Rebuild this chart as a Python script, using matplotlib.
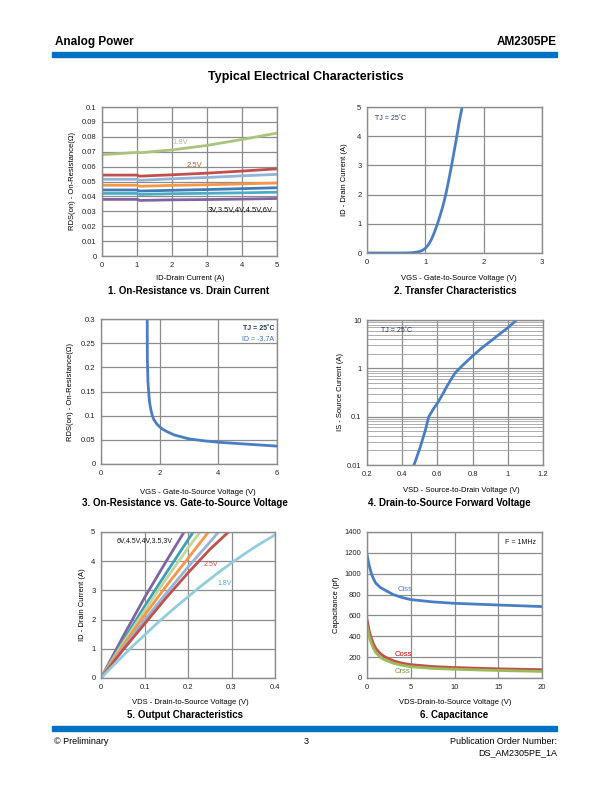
import matplotlib
matplotlib.use("Agg")
import matplotlib.pyplot as plt
from matplotlib.ticker import FixedLocator, FuncFormatter, LogLocator, NullFormatter
import numpy as np

plt.rcParams['font.family'] = ['Liberation Sans', 'DejaVu Sans']

W, H = 612, 792
BLUE_BAR = '#0070c0'
GRID = '#8c8c8c'

# ---- chart 1: RDS(on) vs ID, one curve per VGS ----
id_pts = [0, 1.0, 1.08, 2, 3, 4, 5]
rds_18 = [0.068, 0.0695, 0.0693, 0.0712, 0.0742, 0.0782, 0.0825]
rds_25 = [0.0543, 0.0543, 0.0536, 0.0545, 0.0556, 0.0570, 0.0585]
rds_3 = [0.0515, 0.0515, 0.0508, 0.0518, 0.0527, 0.0538, 0.0548]
rds_35 = [0.0475, 0.0475, 0.0468, 0.0474, 0.0478, 0.0484, 0.0490]
rds_4 = [0.0443, 0.0443, 0.0436, 0.0441, 0.0446, 0.0452, 0.0458]
rds_45 = [0.0420, 0.0420, 0.0413, 0.0418, 0.0421, 0.0424, 0.0428]
rds_6 = [0.0380, 0.0380, 0.0373, 0.0377, 0.0379, 0.0382, 0.0386]
c1_series = [rds_18, rds_25, rds_3, rds_35, rds_4, rds_45, rds_6]
c1_colors = ['#a9c47f', '#c0504d', '#95b3d7', '#f79646', '#3f7cb5', '#4bacc6', '#8064a2']

# ---- chart 2: transfer ----
vgs_tr = [0, 0.5, 0.7, 0.8, 0.9, 0.95, 1.0, 1.05, 1.1, 1.15, 1.2, 1.25, 1.3, 1.35, 1.4, 1.45, 1.5, 1.54, 1.58, 1.63]
id_tr = [0, 0, 0.003, 0.015, 0.05, 0.09, 0.16, 0.28, 0.45, 0.68, 0.95, 1.26, 1.6, 2.0, 2.48, 3.0, 3.55, 4.0, 4.48, 5.0]

# ---- chart 3: RDS(on) vs VGS ----
vgs_rd = [1.575, 1.58, 1.6, 1.65, 1.7, 1.75, 1.8, 1.9, 2.0, 2.1, 2.25, 2.5, 3.0, 3.5, 4.0, 5.0, 6.0]
rds_vg = [0.3, 0.22, 0.17, 0.13, 0.112, 0.1, 0.092, 0.083, 0.077, 0.072, 0.067, 0.060, 0.052, 0.048, 0.045, 0.041, 0.037]

# ---- chart 4: body diode forward ----
vsd = [0.467, 0.50, 0.53, 0.551, 0.58, 0.60, 0.625, 0.65, 0.675, 0.70, 0.75, 0.80, 0.85, 0.90, 0.95, 1.00, 1.05]
i_s = [0.01, 0.022, 0.05, 0.1, 0.15, 0.19, 0.27, 0.4, 0.57, 0.8, 1.22, 1.8, 2.6, 3.6, 5.0, 6.9, 10.0]

# ---- chart 5: output characteristics ----
out_curves = [
    ([0, 0.05, 0.1, 0.15, 0.191], [0, 1.4, 2.75, 4.0, 5.0]),                        # 6V
    ([0, 0.05, 0.1, 0.15, 0.212], [0, 1.25, 2.45, 3.6, 5.0]),                       # 4.5V
    ([0, 0.05, 0.1, 0.15, 0.2, 0.228], [0, 1.18, 2.3, 3.4, 4.45, 5.0]),             # 4V
    ([0, 0.05, 0.1, 0.15, 0.2, 0.247], [0, 1.1, 2.15, 3.15, 4.1, 5.0]),             # 3.5V
    ([0, 0.05, 0.1, 0.15, 0.2, 0.25, 0.27], [0, 1.0, 1.98, 2.9, 3.8, 4.65, 5.0]),   # 3V
    ([0, 0.05, 0.1, 0.15, 0.2, 0.25, 0.293], [0, 0.95, 1.85, 2.75, 3.6, 4.4, 5.0]), # 2.5V
    ([0, 0.025, 0.05, 0.075, 0.1, 0.125, 0.15, 0.175, 0.2, 0.225, 0.25, 0.275, 0.3, 0.325, 0.35, 0.375, 0.4],
     [0, 0.38, 0.75, 1.12, 1.47, 1.82, 2.15, 2.47, 2.78, 3.09, 3.38, 3.67, 3.94, 4.2, 4.45, 4.68, 4.9]),  # 1.8V
]
c5_colors = ['#8064a2', '#3d9fb8', '#c3d69b', '#f79646', '#95b3d7', '#c0504d', '#92cddc']

# ---- chart 6: capacitance ----
vds_c = [0, 0.1, 0.25, 0.5, 0.75, 1, 1.5, 2, 3, 4, 5, 7.5, 10, 15, 20]
ciss = [1180, 1140, 1080, 1000, 950, 910, 870, 845, 800, 772, 752, 730, 716, 700, 685]
coss = [560, 520, 450, 380, 325, 285, 235, 205, 165, 142, 128, 110, 100, 88, 80]
crss = [500, 460, 400, 330, 280, 245, 200, 175, 142, 122, 108, 92, 84, 72, 63]


def px_axes(fig, x0, y0, x1, y1):
    return fig.add_axes([x0 / W, 1 - y1 / H, (x1 - x0) / W, (y1 - y0) / H])


def ft(fig, x, y, s, **kw):
    fig.text(x / W, 1 - y / H, s, **kw)


def style(ax):
    for sp in ax.spines.values():
        sp.set_color(GRID)
        sp.set_linewidth(1.0)
    ax.grid(True, color=GRID, linewidth=0.9)
    ax.set_axisbelow(True)
    ax.tick_params(length=0, labelsize=5.5, pad=4, colors='#222222')


fmt = FuncFormatter(lambda v, p: '%g' % v)

fig = plt.figure(figsize=(W / 100, H / 100), dpi=100)

# header / footer
ft(fig, 55, 42, 'Analog Power', fontsize=8.5, fontweight='bold', va='center')
ft(fig, 557, 42, 'AM2305PE', fontsize=8.5, fontweight='bold', va='center', ha='right')
fig.add_artist(plt.Rectangle((52 / W, 1 - 57 / H), 505 / W, 5 / H, color=BLUE_BAR, transform=fig.transFigure))
ft(fig, 306, 77, 'Typical Electrical Characteristics', fontsize=9, fontweight='bold', ha='center', va='center')
fig.add_artist(plt.Rectangle((52 / W, 1 - 731 / H), 505 / W, 5 / H, color=BLUE_BAR, transform=fig.transFigure))
ft(fig, 54, 741, '© Preliminary', fontsize=6.5, va='center')
ft(fig, 306, 741, '3', fontsize=6.5, va='center', ha='center')
ft(fig, 557, 741, 'Publication Order Number:', fontsize=6.5, va='center', ha='right')
ft(fig, 557, 753, 'DS_AM2305PE_1A', fontsize=6.5, va='center', ha='right')

cap_kw = dict(fontsize=7, fontweight='bold', ha='center', va='center')
lab_kw = dict(fontsize=5.5, ha='center', va='center')

# chart 1
ax = px_axes(fig, 102, 107, 277, 256)
for ys, c in zip(c1_series, c1_colors):
    ax.plot(id_pts, ys, color=c, lw=2.0, solid_capstyle='butt')
ax.set_xlim(0, 5)
ax.set_ylim(0, 0.1)
ax.xaxis.set_major_locator(FixedLocator([0, 1, 2, 3, 4, 5]))
ax.yaxis.set_major_locator(FixedLocator(np.round(np.arange(0, 0.101, 0.01), 2)))
ax.xaxis.set_major_formatter(fmt)
ax.yaxis.set_major_formatter(fmt)
style(ax)
ax.text(2.0, 0.0765, '1.8V', color='#a9c47f', fontsize=5.5, va='center')
ax.text(2.42, 0.061, '2.5V', color='#b8602a', fontsize=5.5, va='center')
ax.text(3.03, 0.031, '3V,3.5V,4V,4.5V,6V', color='#111111', fontsize=5.5, va='center')
ft(fig, 72, 181, 'RDS(on) - On-Resistance(Ω)', rotation=90, **lab_kw)
ft(fig, 190, 278, 'ID-Drain Current (A)', **lab_kw)
ft(fig, 189, 291, '1. On-Resistance vs. Drain Current', **cap_kw)

# chart 2
ax = px_axes(fig, 367, 107, 542, 253)
ax.plot(vgs_tr, id_tr, color='#4a7ec4', lw=2.0)
ax.set_xlim(0, 3)
ax.set_ylim(0, 5)
ax.xaxis.set_major_locator(FixedLocator([0, 1, 2, 3]))
ax.yaxis.set_major_locator(FixedLocator([0, 1, 2, 3, 4, 5]))
style(ax)
ax.text(0.13, 4.6, 'TJ = 25˚C', color='#1f3864', fontsize=5, va='center')
ft(fig, 345, 180, 'ID - Drain Current (A)', rotation=90, **lab_kw)
ft(fig, 459, 279, 'VGS - Gate-to-Source Voltage (V)', **lab_kw)
ft(fig, 455, 291, '2. Transfer Characteristics', **cap_kw)

# chart 3
ax = px_axes(fig, 101, 319, 277, 464)
ax.plot(vgs_rd, rds_vg, color='#4a7ec4', lw=2.0)
ax.set_xlim(0, 6)
ax.set_ylim(0, 0.3)
ax.xaxis.set_major_locator(FixedLocator([0, 2, 4, 6]))
ax.yaxis.set_major_locator(FixedLocator([0, 0.05, 0.1, 0.15, 0.2, 0.25, 0.3]))
ax.xaxis.set_major_formatter(fmt)
ax.yaxis.set_major_formatter(fmt)
style(ax)
ax.text(5.9, 0.28, 'TJ = 25˚C', color='#1f3864', fontsize=5, fontweight='bold', ha='right', va='center')
ax.text(5.9, 0.258, 'ID = -3.7A', color='#3a6fb5', fontsize=5, ha='right', va='center')
ft(fig, 70, 392, 'RDS(on) - On-Resistance(Ω)', rotation=90, **lab_kw)
ft(fig, 198, 492, 'VGS - Gate-to-Source Voltage (V)', **lab_kw)
ft(fig, 185, 503, '3. On-Resistance vs. Gate-to-Source Voltage', **cap_kw)

# chart 4
ax = px_axes(fig, 367, 320, 543, 465)
ax.plot(vsd, i_s, color='#4a7ec4', lw=2.0)
ax.set_yscale('log')
ax.set_xlim(0.2, 1.2)
ax.set_ylim(0.01, 10)
ax.xaxis.set_major_locator(FixedLocator([0.2, 0.4, 0.6, 0.8, 1.0, 1.2]))
ax.xaxis.set_major_formatter(fmt)
ax.yaxis.set_major_locator(FixedLocator([0.01, 0.1, 1, 10]))
ax.yaxis.set_major_formatter(fmt)
ax.yaxis.set_minor_locator(LogLocator(base=10, subs=np.arange(2, 10)))
ax.yaxis.set_minor_formatter(NullFormatter())
style(ax)
ax.grid(True, which='minor', axis='y', color='#a0a0a0', linewidth=0.6)
ax.tick_params(which='minor', length=0)
ax.text(0.28, 6.0, 'TJ = 25˚C', color='#1f3864', fontsize=5, va='center')
ft(fig, 341, 392, 'IS - Source Current (A)', rotation=90, **lab_kw)
ft(fig, 461, 491, 'VSD - Source-to-Drain Voltage (V)', **lab_kw)
ft(fig, 449, 503, '4. Drain-to-Source Forward Voltage', **cap_kw)

# chart 5
ax = px_axes(fig, 101, 532, 275, 678)
for (xs, ys), c in zip(out_curves, c5_colors):
    ax.plot(xs, ys, color=c, lw=2.0)
ax.set_xlim(0, 0.4)
ax.set_ylim(0, 5)
ax.xaxis.set_major_locator(FixedLocator([0, 0.1, 0.2, 0.3, 0.4]))
ax.yaxis.set_major_locator(FixedLocator([0, 1, 2, 3, 4, 5]))
ax.xaxis.set_major_formatter(fmt)
style(ax)
ax.text(0.037, 4.72, '6V,4.5V,4V,3.5,3V', color='#111111', fontsize=5, va='center')
ax.text(0.237, 3.9, '2.5V', color='#c0504d', fontsize=5, va='center')
ax.text(0.268, 3.25, '1.8V', color='#4bacc6', fontsize=5, va='center')
ft(fig, 83, 605, 'ID - Drain Current (A)', rotation=90, **lab_kw)
ft(fig, 190, 703, 'VDS - Drain-to-Source Voltage (V)', **lab_kw)
ft(fig, 185, 715, '5. Output Characteristics', **cap_kw)

# chart 6
ax = px_axes(fig, 367, 532, 542, 678)
ax.plot(vds_c, ciss, color='#4a7ec4', lw=2.0)
ax.plot(vds_c, coss, color='#c0504d', lw=2.0)
ax.plot(vds_c, crss, color='#9bbb59', lw=2.0)
ax.set_xlim(0, 20)
ax.set_ylim(0, 1400)
ax.xaxis.set_major_locator(FixedLocator([0, 5, 10, 15, 20]))
ax.yaxis.set_major_locator(FixedLocator(list(range(0, 1401, 200))))
style(ax)
ax.text(3.5, 845, 'Ciss', color='#4a7ec4', fontsize=5.5, va='center')
ax.text(3.2, 230, 'Coss', color='#c00000', fontsize=5.5, va='center')
ax.text(3.2, 60, 'Crss', color='#77933c', fontsize=5.5, va='center')
ax.text(19.3, 1300, 'F = 1MHz', color='#111111', fontsize=5, ha='right', va='center')
ft(fig, 336, 605, 'Capacitance (pf)', rotation=90, **lab_kw)
ft(fig, 455, 703, 'VDS-Drain-to-Source Voltage (V)', **lab_kw)
ft(fig, 454, 715, '6. Capacitance', **cap_kw)

fig.savefig('out.png', dpi=100)
